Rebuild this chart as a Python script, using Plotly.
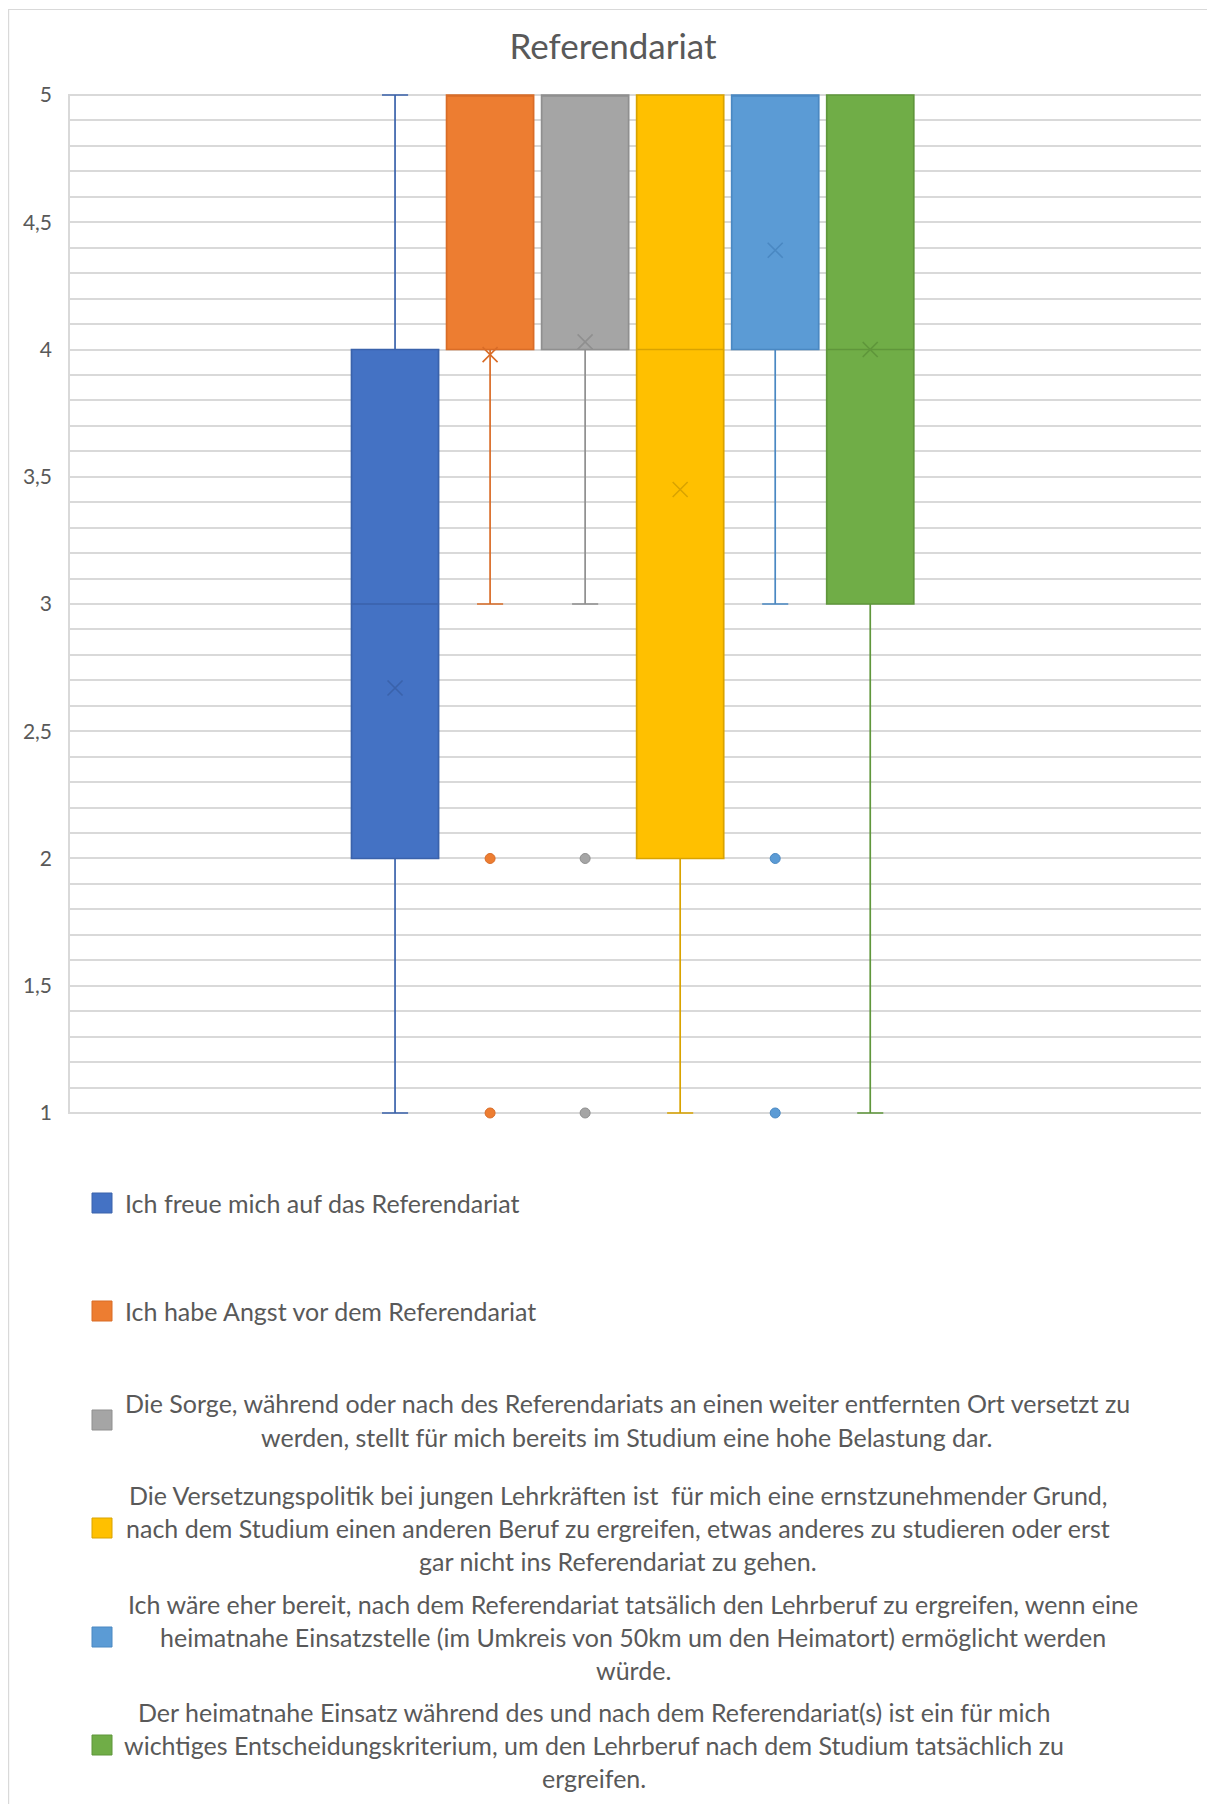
import plotly.graph_objects as go

# ---------------- data ----------------
series_labels = [
    "Ich freue mich auf das Referendariat",
    "Ich habe Angst vor dem Referendariat",
    "Die Sorge, während oder nach des Referendariats an einen weiter entfernten Ort versetzt zu<br>werden, stellt für mich bereits im Studium eine hohe Belastung dar.",
    "Die Versetzungspolitik bei jungen Lehrkräften ist  für mich eine ernstzunehmender Grund,<br>nach dem Studium einen anderen Beruf zu ergreifen, etwas anderes zu studieren oder erst<br>gar nicht ins Referendariat zu gehen.",
    "Ich wäre eher bereit, nach dem Referendariat tatsälich den Lehrberuf zu ergreifen, wenn eine<br>heimatnahe Einsatzstelle (im Umkreis von 50km um den Heimatort) ermöglicht werden<br>würde.",
    "Der heimatnahe Einsatz während des und nach dem Referendariat(s) ist ein für mich<br>wichtiges Entscheidungskriterium, um den Lehrberuf nach dem Studium tatsächlich zu<br>ergreifen.",
]
q1_vals = [2, 4, 4, 2, 4, 3]
median_vals = [3, 5, 5, 4, 5, 4]
q3_vals = [4, 5, 5, 5, 5, 5]
lower_whisker = [1, 3, 3, 1, 3, 1]
upper_whisker = [5, 5, 5, 5, 5, 5]
mean_vals = [2.67, 3.98, 4.03, 3.45, 4.39, 4.00]
outlier_vals = [[], [2, 1], [2, 1], [], [2, 1], []]
y_tick_vals = [1, 1.5, 2, 2.5, 3, 3.5, 4, 4.5, 5]

fill_colors = ["#4472C4", "#ED7D31", "#A5A5A5", "#FFC000", "#5B9BD5", "#70AD47"]
line_colors = ["#3A62AB", "#D96C27", "#8F8F8F", "#D9A300", "#4A88C2", "#5F963B"]

# ---------------- layout geometry (pixels, figure coords; page has 8px body margin) ----------------
OFF = 8
W, H = 1215 - 2 * OFF, 1812 - 2 * OFF
PL, PR, PT, PB = 70 - OFF, 1201 - OFF, 94 - OFF, 1114 - OFF
TEXT = "#595959"
FONT = "Lato"
GRID = "#D9D9D9"


def px(xp):
    return (xp - OFF - PL) / (PR - PL)


def py(yp):
    return (PB - (yp - OFF)) / (PB - PT)


fig = go.Figure()

for i in range(len(series_labels)):
    fig.add_trace(go.Box(
        x=[i], q1=[q1_vals[i]], median=[median_vals[i]], q3=[q3_vals[i]],
        lowerfence=[lower_whisker[i]], upperfence=[upper_whisker[i]],
        width=0.916, whiskerwidth=0.3,
        fillcolor=fill_colors[i],
        line=dict(color=line_colors[i], width=1.7),
        boxpoints=False, showlegend=False, hoverinfo="skip",
    ))
    fig.add_trace(go.Scatter(
        x=[i], y=[mean_vals[i]], mode="markers",
        marker=dict(symbol="x-thin", size=15,
                    line=dict(color=line_colors[i], width=1.6)),
        showlegend=False, hoverinfo="skip",
    ))
    if outlier_vals[i]:
        fig.add_trace(go.Scatter(
            x=[i] * len(outlier_vals[i]), y=outlier_vals[i], mode="markers",
            marker=dict(symbol="circle", size=10, color=fill_colors[i],
                        line=dict(color=line_colors[i], width=1)),
            showlegend=False, hoverinfo="skip", cliponaxis=False,
        ))

shapes = []
annotations = []

# chart border (left and top visible)
shapes.append(dict(type="line", xref="paper", yref="paper",
                   x0=px(8.6), x1=px(8.6), y0=py(9), y1=py(1830),
                   line=dict(color=GRID, width=1.2)))
shapes.append(dict(type="line", xref="paper", yref="paper",
                   x0=px(8.6), x1=px(1230), y0=py(9.5), y1=py(9.5),
                   line=dict(color=GRID, width=1.2)))

# manual legend
legend_centers = [1203, 1311, 1420, 1528, 1637, 1745]
block_centers_x = [None, None, 627, 618, 633, 594]
line_gap = 33
for i, lab in enumerate(series_labels):
    c = legend_centers[i]
    shapes.append(dict(type="rect", xref="paper", yref="paper",
                       x0=px(92), x1=px(112), y0=py(c - 10), y1=py(c + 10),
                       fillcolor=fill_colors[i],
                       line=dict(color=line_colors[i], width=1)))
    lines = lab.split("<br>")
    n = len(lines)
    if n == 1:
        annotations.append(dict(xref="paper", yref="paper", x=px(123), y=py(c),
                                xanchor="left", yanchor="middle", text=lines[0],
                                showarrow=False,
                                font=dict(family=FONT, size=25, color=TEXT)))
    else:
        for k, t in enumerate(lines):
            yk = c + (k - (n - 1) / 2) * line_gap
            annotations.append(dict(xref="paper", yref="paper", x=px(block_centers_x[i]), y=py(yk),
                                    xanchor="center", yanchor="middle", text=t,
                                    showarrow=False,
                                    font=dict(family=FONT, size=25, color=TEXT)))

fig.update_layout(
    width=W, height=H,
    margin=dict(l=PL, r=W - PR, t=PT, b=H - PB, pad=0),
    paper_bgcolor="white", plot_bgcolor="white",
    separators=",.",
    title=dict(text="Referendariat", x=(613 - OFF) / W, xanchor="center",
               y=1 - (47 - OFF) / H, yanchor="middle", xref="container", yref="container",
               font=dict(family=FONT, size=35, color=TEXT)),
    xaxis=dict(range=[-3.42, 8.48], showticklabels=False, showgrid=False,
               zeroline=False, showline=False, ticks=""),
    yaxis=dict(range=[0.996, 5.004], tickvals=y_tick_vals,
               showgrid=True, gridcolor=GRID, gridwidth=1.5,
               minor=dict(dtick=0.1, tick0=1, showgrid=True, gridcolor=GRID, gridwidth=1.5),
               zeroline=False, showline=True, linecolor=GRID, linewidth=1.5,
               ticks="", ticklabelstandoff=12,
               tickfont=dict(family=FONT, size=21, color=TEXT)),
    shapes=shapes, annotations=annotations,
    font=dict(family=FONT, color=TEXT),
)

fig.write_html("out.html")
